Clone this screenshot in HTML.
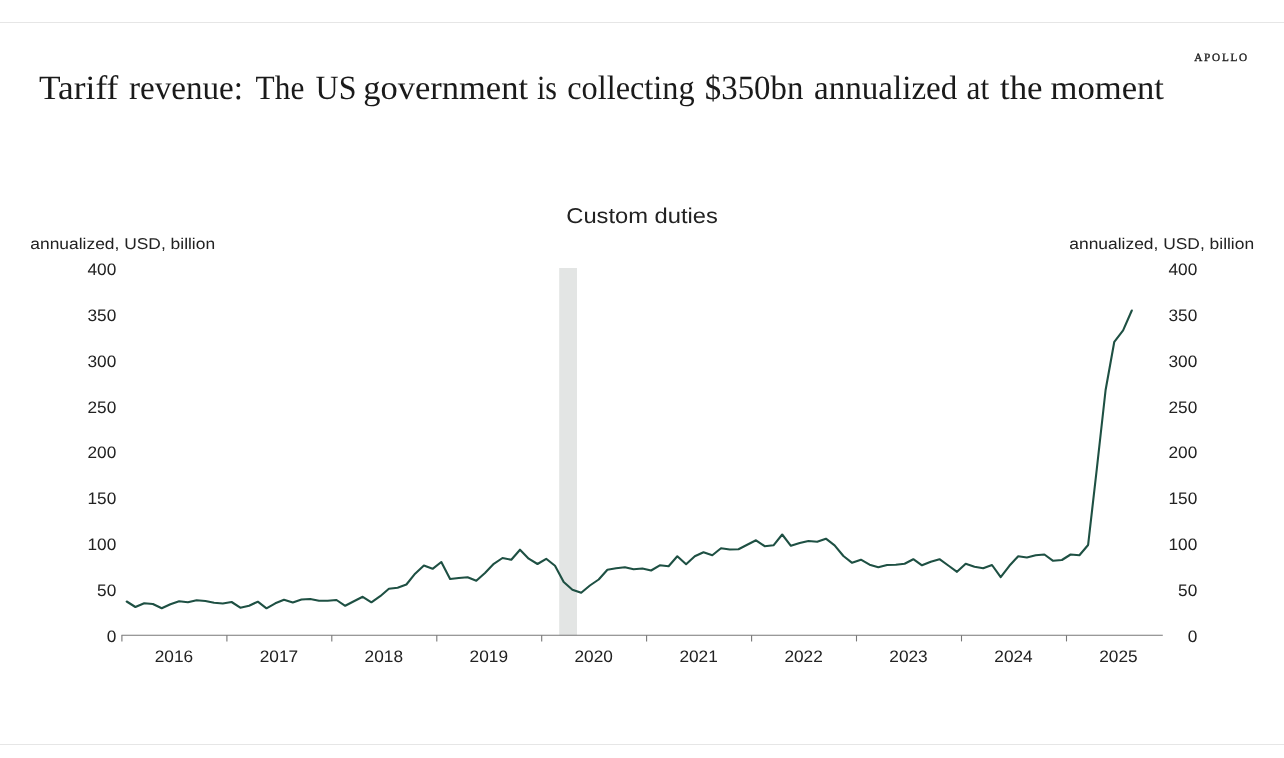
<!DOCTYPE html>
<html><head><meta charset="utf-8"><title>Tariff revenue</title>
<style>
html,body{margin:0;padding:0;background:#fff;}
body{width:1284px;height:758px;overflow:hidden;position:relative;font-family:"Liberation Sans",sans-serif;}
svg{position:absolute;left:0;top:0;display:block;text-rendering:geometricPrecision;will-change:transform}
.sans{font-family:"Liberation Sans",sans-serif;fill:#222}
.serif{font-family:"Liberation Serif",serif;fill:#1a1a1a}
</style></head><body>
<svg width="1284" height="758" viewBox="0 0 1284 758">
<rect x="0" y="0" width="1284" height="758" fill="#ffffff"/>
<rect x="0" y="22" width="1284" height="1" fill="#e6e6e6"/>
<rect x="0" y="744" width="1284" height="1" fill="#e6e6e6"/>
<g class="serif" font-size="34"><text x="39" y="98.6" textLength="79.3" lengthAdjust="spacingAndGlyphs">Tariff</text><text x="129" y="98.6" textLength="114" lengthAdjust="spacingAndGlyphs">revenue:</text><text x="255.6" y="98.6" textLength="48.70000000000002" lengthAdjust="spacingAndGlyphs">The</text><text x="315.6" y="98.6" textLength="40.89999999999998" lengthAdjust="spacingAndGlyphs">US</text><text x="363.2" y="98.6" textLength="164.8" lengthAdjust="spacingAndGlyphs">government</text><text x="537" y="98.6" textLength="20" lengthAdjust="spacingAndGlyphs">is</text><text x="567.2" y="98.6" textLength="127.39999999999998" lengthAdjust="spacingAndGlyphs">collecting</text><text x="704.8" y="98.6" textLength="98.5" lengthAdjust="spacingAndGlyphs">$350bn</text><text x="814" y="98.6" textLength="143.29999999999995" lengthAdjust="spacingAndGlyphs">annualized</text><text x="966.6" y="98.6" textLength="22.600000000000023" lengthAdjust="spacingAndGlyphs">at</text><text x="1000" y="98.6" textLength="42.59999999999991" lengthAdjust="spacingAndGlyphs">the</text><text x="1050.5" y="98.6" textLength="113.5" lengthAdjust="spacingAndGlyphs">moment</text></g>
<text class="serif" x="1194.2" y="60.6" font-size="11.2" textLength="53" lengthAdjust="spacing" stroke="#1a1a1a" stroke-width="0.35">APOLLO</text>
<text class="sans" x="566.3" y="223.3" font-size="21.5" textLength="151.6" lengthAdjust="spacingAndGlyphs">Custom duties</text>
<text class="sans" x="30.3" y="248.8" font-size="15.6" textLength="184.8" lengthAdjust="spacingAndGlyphs">annualized, USD, billion</text>
<text class="sans" x="1069.3" y="248.8" font-size="15.6" textLength="184.8" lengthAdjust="spacingAndGlyphs">annualized, USD, billion</text>
<rect x="559.2" y="268" width="17.8" height="367.29999999999995" fill="#e3e5e4"/>
<g stroke="#777777" stroke-width="1.1" fill="none">
<line x1="121.5" y1="635.3" x2="1162.8" y2="635.3"/>
<line x1="121.9" y1="635.3" x2="121.9" y2="641.4"/><line x1="226.9" y1="635.3" x2="226.9" y2="641.4"/><line x1="331.8" y1="635.3" x2="331.8" y2="641.4"/><line x1="436.8" y1="635.3" x2="436.8" y2="641.4"/><line x1="541.7" y1="635.3" x2="541.7" y2="641.4"/><line x1="646.6" y1="635.3" x2="646.6" y2="641.4"/><line x1="751.6" y1="635.3" x2="751.6" y2="641.4"/><line x1="856.5" y1="635.3" x2="856.5" y2="641.4"/><line x1="961.5" y1="635.3" x2="961.5" y2="641.4"/><line x1="1066.5" y1="635.3" x2="1066.5" y2="641.4"/>
</g>
<g class="sans" font-size="16.6"><text x="106.7" y="641.6" textLength="9.6" lengthAdjust="spacingAndGlyphs">0</text><text x="1187.7" y="641.6" textLength="9.6" lengthAdjust="spacingAndGlyphs">0</text><text x="97.1" y="595.8" textLength="19.2" lengthAdjust="spacingAndGlyphs">50</text><text x="1178.1" y="595.8" textLength="19.2" lengthAdjust="spacingAndGlyphs">50</text><text x="87.5" y="549.9" textLength="28.8" lengthAdjust="spacingAndGlyphs">100</text><text x="1168.5" y="549.9" textLength="28.8" lengthAdjust="spacingAndGlyphs">100</text><text x="87.5" y="504.1" textLength="28.8" lengthAdjust="spacingAndGlyphs">150</text><text x="1168.5" y="504.1" textLength="28.8" lengthAdjust="spacingAndGlyphs">150</text><text x="87.5" y="458.3" textLength="28.8" lengthAdjust="spacingAndGlyphs">200</text><text x="1168.5" y="458.3" textLength="28.8" lengthAdjust="spacingAndGlyphs">200</text><text x="87.5" y="412.5" textLength="28.8" lengthAdjust="spacingAndGlyphs">250</text><text x="1168.5" y="412.5" textLength="28.8" lengthAdjust="spacingAndGlyphs">250</text><text x="87.5" y="366.6" textLength="28.8" lengthAdjust="spacingAndGlyphs">300</text><text x="1168.5" y="366.6" textLength="28.8" lengthAdjust="spacingAndGlyphs">300</text><text x="87.5" y="320.8" textLength="28.8" lengthAdjust="spacingAndGlyphs">350</text><text x="1168.5" y="320.8" textLength="28.8" lengthAdjust="spacingAndGlyphs">350</text><text x="87.5" y="275.0" textLength="28.8" lengthAdjust="spacingAndGlyphs">400</text><text x="1168.5" y="275.0" textLength="28.8" lengthAdjust="spacingAndGlyphs">400</text><text x="154.7" y="662.3" textLength="38.4" lengthAdjust="spacingAndGlyphs">2016</text><text x="259.7" y="662.3" textLength="38.4" lengthAdjust="spacingAndGlyphs">2017</text><text x="364.6" y="662.3" textLength="38.4" lengthAdjust="spacingAndGlyphs">2018</text><text x="469.6" y="662.3" textLength="38.4" lengthAdjust="spacingAndGlyphs">2019</text><text x="574.5" y="662.3" textLength="38.4" lengthAdjust="spacingAndGlyphs">2020</text><text x="679.4" y="662.3" textLength="38.4" lengthAdjust="spacingAndGlyphs">2021</text><text x="784.4" y="662.3" textLength="38.4" lengthAdjust="spacingAndGlyphs">2022</text><text x="889.3" y="662.3" textLength="38.4" lengthAdjust="spacingAndGlyphs">2023</text><text x="994.3" y="662.3" textLength="38.4" lengthAdjust="spacingAndGlyphs">2024</text><text x="1099.2" y="662.3" textLength="38.4" lengthAdjust="spacingAndGlyphs">2025</text></g>
<polyline points="126.7,601.5 135.4,607.0 144.2,603.2 152.9,604.0 161.7,608.3 170.4,604.2 179.1,601.2 187.9,602.3 196.6,600.2 205.4,601.0 214.1,602.8 222.8,603.5 231.6,602.0 240.3,607.7 249.1,605.7 257.8,601.7 266.5,608.3 275.3,603.3 284.0,599.8 292.8,602.5 301.5,599.5 310.2,599.0 319.0,600.8 327.7,600.8 336.5,600.0 345.2,605.8 353.9,601.2 362.7,596.8 371.4,602.3 380.2,596.2 388.9,588.8 397.6,587.7 406.4,584.5 415.1,573.7 423.9,565.5 432.6,568.8 441.3,562.0 450.1,579.0 458.8,578.0 467.6,577.3 476.3,580.8 485.0,573.0 493.8,563.8 502.5,558.0 511.3,559.8 520.0,549.7 528.7,558.7 537.5,564.0 546.2,558.8 555.0,565.8 563.7,582.0 572.4,589.7 581.2,592.8 589.9,585.5 598.7,579.5 607.4,569.7 616.1,568.3 624.9,567.2 633.6,569.3 642.4,568.5 651.1,570.5 659.8,565.3 668.6,566.2 677.3,556.3 686.1,564.2 694.8,556.3 703.5,552.2 712.3,555.2 721.0,548.3 729.8,549.5 738.5,549.2 747.2,544.7 756.0,540.3 764.7,546.2 773.5,545.3 782.2,534.5 790.9,545.8 799.7,543.0 808.4,541.0 817.2,541.7 825.9,538.7 834.6,545.3 843.4,556.0 852.1,562.8 860.9,559.7 869.6,564.7 878.3,567.3 887.1,565.0 895.8,564.7 904.6,563.7 913.3,559.2 922.0,565.3 930.8,561.7 939.5,559.2 948.3,565.5 957.0,571.8 965.7,563.7 974.5,566.7 983.2,568.3 992.0,565.0 1000.7,577.2 1009.4,565.8 1018.2,556.3 1026.9,557.5 1035.7,555.2 1044.4,554.5 1053.1,560.8 1061.9,560.0 1070.6,554.5 1079.4,555.3 1088.1,545.0 1096.8,469.0 1105.6,390.0 1114.3,341.8 1123.1,330.3 1131.8,310.5" fill="none" stroke="#1e5043" stroke-width="2.1" stroke-linejoin="round" stroke-linecap="round"/>
</svg>
</body></html>
